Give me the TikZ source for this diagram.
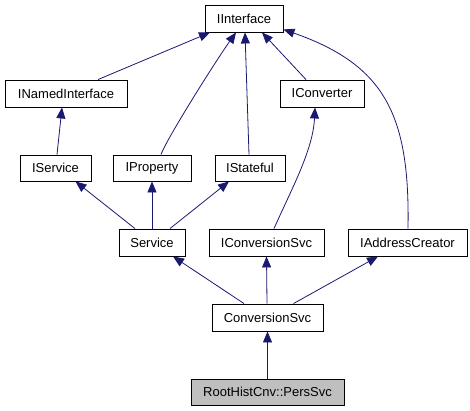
\documentclass[tikz,border=0pt]{standalone}
\usepackage{fontspec}
\setmainfont{Liberation Sans}
\usetikzlibrary{arrows.meta}
\definecolor{edgeblue}{HTML}{191970}
\definecolor{boxgray}{HTML}{BFBFBF}
\tikzset{
  cls/.style={draw=black, line width=0.9pt, fill=white, inner sep=0pt, minimum height=27pt,
    font=\fontsize{13}{15}\selectfont},
  inh/.style={draw=edgeblue, line width=0.8pt, -{Triangle[length=11pt,width=9pt]}, fill=none},
}
\begin{document}
\begin{tikzpicture}[x=1pt,y=-1pt]
\useasboundingbox (0,0) rectangle (470,410);
\node[cls, minimum width=78pt] (iint) at (244,18.5) {IInterface};
\node[cls, minimum width=122pt] (inamed) at (66,93.5) {INamedInterface};
\node[cls, minimum width=84pt] (iconv) at (322,93.5) {IConverter};
\node[cls, minimum width=71pt, minimum height=26pt] (iserv) at (55.5,168) {IService};
\node[cls, minimum width=78pt, minimum height=26pt] (iprop) at (152,168) {IProperty};
\node[cls, minimum width=70pt, minimum height=26pt] (istate) at (250,168) {IStateful};
\node[cls, minimum width=66pt] (serv) at (152,242.5) {Service};
\node[cls, minimum width=115pt] (iconvsvc) at (266.5,242.5) {IConversionSvc};
\node[cls, minimum width=119pt] (iaddr) at (407.5,242.5) {IAddressCreator};
\node[cls, minimum width=111pt] (csvc) at (267.5,317.5) {ConversionSvc};
\node[cls, minimum width=153pt, minimum height=26pt, fill=boxgray] (pers) at (267.5,392) {RootHistCnv::PersSvc};

\draw[inh] ([xshift=32pt]inamed.north) -- ([xshift=-34pt]iint.south);
\draw[inh] ([xshift=9pt]iprop.north) .. controls (166,140) and (215,62) .. ([xshift=-8pt]iint.south);
\draw[inh] ([xshift=-1pt]istate.north) -- ([xshift=1pt]iint.south);
\draw[inh] ([xshift=-16pt]iconv.north) -- ([xshift=18pt]iint.south);
\draw[inh] ([xshift=0.5pt]iaddr.north) .. controls (410,115) and (385,65) .. ([yshift=3pt]iint.south east);
\draw[inh] ([xshift=1.5pt]iserv.north) -- ([xshift=-4pt]inamed.south);
\draw[inh] ([xshift=-17pt]serv.north) -- ([xshift=20pt]iserv.south);
\draw[inh] (serv.north) -- (iprop.south);
\draw[inh] ([xshift=18pt]serv.north) -- ([xshift=-21pt]istate.south);
\draw[inh] ([xshift=7.5pt]iconvsvc.north) .. controls (292,188) and (313,150) .. ([xshift=-7pt]iconv.south);
\draw[inh] ([xshift=-23.5pt]csvc.north) -- ([xshift=21pt]serv.south);
\draw[inh] ([xshift=-0.5pt]csvc.north) -- (iconvsvc.south);
\draw[inh] ([xshift=26pt]csvc.north) -- ([xshift=-29.5pt]iaddr.south);
\draw[inh] (pers.north) -- (csvc.south);
\end{tikzpicture}
\end{document}
